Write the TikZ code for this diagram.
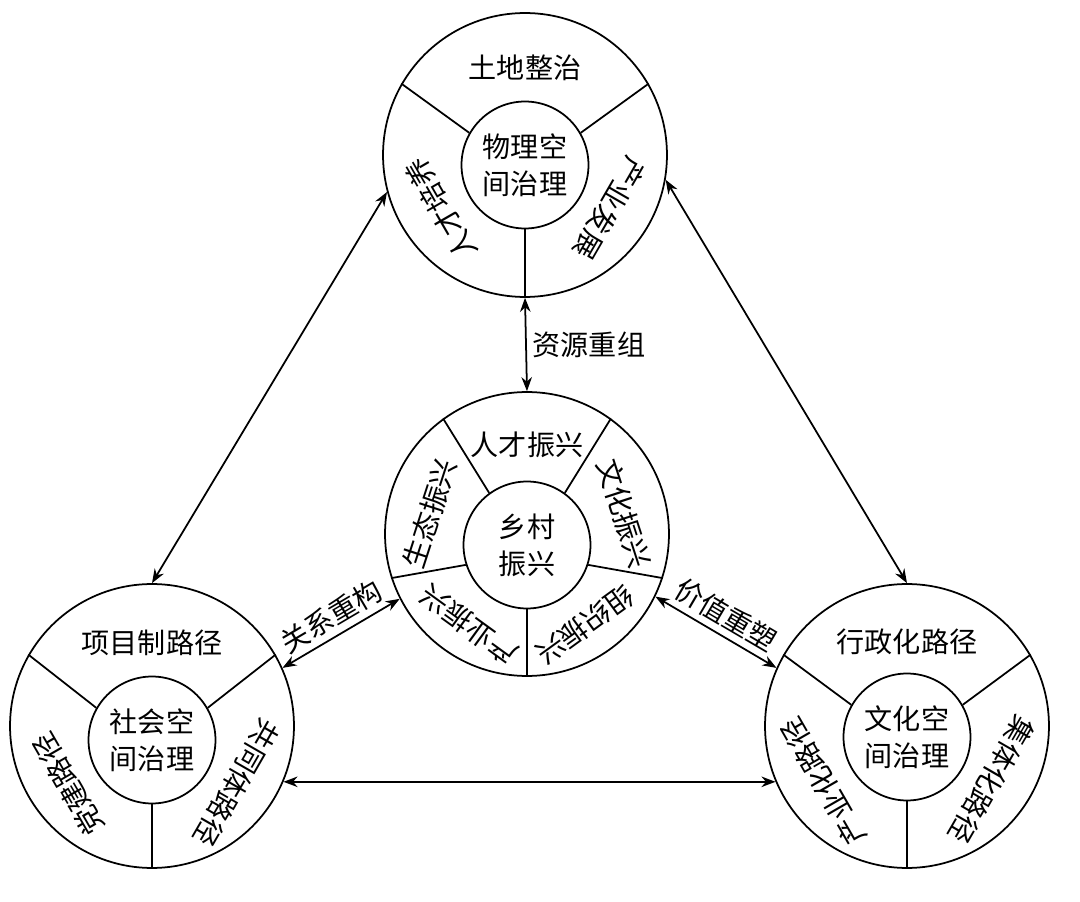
\documentclass[tikz,border=0pt]{standalone}
\usepackage{fontspec}
\newfontfamily\zhfont{Noto Sans CJK SC}
\usetikzlibrary{arrows.meta, positioning}

\begin{document}
\begin{tikzpicture}[
                    x=0.02cm, y=0.02cm,
                    every node/.style={font=\zhfont\fontsize{16}{21}\selectfont},
                    ring/.style={circle, draw, line width=1pt, minimum size=5.68cm, inner sep=0pt},
                    hub/.style={circle, draw, line width=1pt, minimum size=2.54cm, inner sep=0pt, align=center},
                    seg/.style={inner sep=0.5pt},
                    sep/.style={line width=1pt},
                    arrow/.style={{Stealth[length=8pt, width=6pt]}-{Stealth[length=8pt, width=6pt]}, line width=1pt}
                ]
                \useasboundingbox (0,0) rectangle (1080,-902);

                \node[ring] (top) at (525,-155) {};
                \node[hub] (topin) at (525,-165) {物理空\\间治理};
                \foreach \a in {30,150,270} \draw[sep] (top.\a) -- (topin.\a);
                \path (topin.center) ++(90:97) node[seg] (topT) {土地整治};
                \path (topin.center) ++(-27:95) node[seg, rotate=-120] (topR) {产业发展};
                \path (topin.center) ++(208:95) node[seg, rotate=120] (topL) {人才培养};

                \node[ring] (mid) at (527,-534) {};
                \node[hub] (midin) at (527,-545) {乡村\\振兴};
                \foreach \a in {126,54,-18,-90,198} \draw[sep] (mid.\a) -- (midin.\a);
                \path (midin.center) ++(90:100) node[seg] (midT) {人才振兴};
                \path (midin.center) ++(18:102) node[seg, rotate=-72] (midR) {文化振兴};
                \path (midin.center) ++(-54:99) node[seg, rotate=-144] (midBR) {组织振兴};
                \path (midin.center) ++(-126:99) node[seg, rotate=144] (midBL) {产业振兴};
                \path (midin.center) ++(162:102) node[seg, rotate=72] (midL) {生态振兴};

                \node[ring] (bl) at (152,-726) {};
                \node[hub] (blin) at (152,-740) {社会空\\间治理};
                \foreach \a in {30,150,270} \draw[sep] (bl.\a) -- (blin.\a);
                \path (blin.center) ++(90:97) node[seg] (blT) {项目制路径};
                \path (blin.center) ++(-27:95) node[seg, rotate=-120] (blR) {共同体路径};
                \path (blin.center) ++(208:95) node[seg, rotate=120] (blL) {党建路径};

                \node[ring] (br) at (907,-726) {};
                \node[hub] (brin) at (907,-737) {文化空\\间治理};
                \foreach \a in {30,150,270} \draw[sep] (br.\a) -- (brin.\a);
                \path (brin.center) ++(90:95) node[seg] (brT) {行政化路径};
                \path (brin.center) ++(-27:95) node[seg, rotate=-120] (brR) {集体化路径};
                \path (brin.center) ++(208:95) node[seg, rotate=120] (brL) {产业化路径};

                \draw[arrow] (top.south) -- node[right] (lblA) {资源重组} (mid.north);
                \draw[arrow] (bl.24) -- node[sloped, above] (lblB) {关系重构} (mid.207);
                \draw[arrow] (mid.-26) -- node[sloped, above] (lblC) {价值重塑} (br.156);
                \draw[arrow] (top.195) -- (bl.north);
                \draw[arrow] (top.-10) -- (br.north);
                \draw[arrow] (bl.-23) -- (br.203);
                \end{tikzpicture}
\end{document}
